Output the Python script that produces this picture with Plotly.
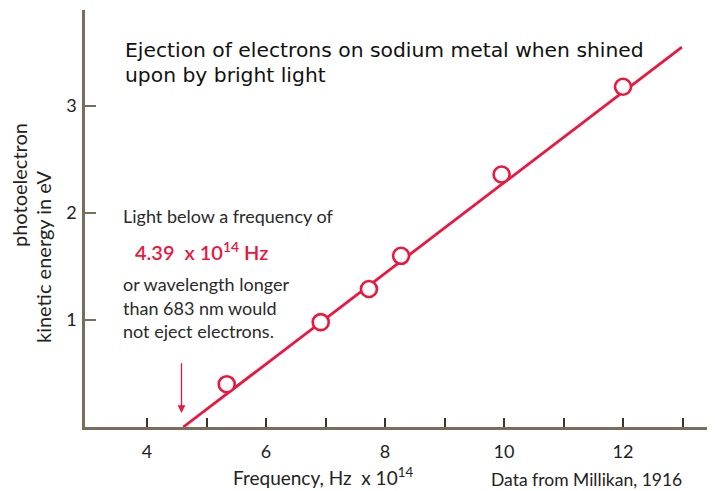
import plotly.graph_objects as go

# ---- data ----
freq = [5.34, 6.92, 7.73, 8.27, 9.96, 12.0]          # x 10^14 Hz
energy = [0.40, 0.98, 1.29, 1.60, 2.36, 3.18]        # eV
fit_freq = [4.61, 12.99]
fit_energy = [0.0, 3.55]
arrow_freq = 4.58
arrow_energy = [0.61, 0.13]
x_tickvals = [4, 6, 8, 10, 12]
x_ticktext = ["4", "6", "8", "10", "12"]
x_minorvals = [5, 7, 9, 11, 13]
y_tickvals = [1, 2, 3]
y_ticktext = ["1", "2", "3"]

RED = "#ec1640"
AXIS = "#7a6d5c"
MYRIAD = "Lato, Open Sans, sans-serif"

# page is offset by the 8px body margin
OFF = 8
# plot area in page pixels: x 85..715, y 10..427
L, R, T, B = 85, 715, 10, 427
def px(x):
    return (x - L) / (R - L)
def py(y):
    return (B - y) / (B - T)

fig = go.Figure()
fig.add_trace(go.Scatter(x=fit_freq, y=fit_energy, mode="lines",
                         line=dict(color=RED, width=2.8), showlegend=False,
                         hoverinfo="skip"))
fig.add_trace(go.Scatter(x=freq, y=energy, mode="markers",
                         marker=dict(symbol="circle", size=16, color="white",
                                     line=dict(color=RED, width=2.6)),
                         showlegend=False))

ann = []
def text(x, y, s, size, color="#222", font=MYRIAD, xanchor="left", angle=0, weight=None):
    f = dict(family=font, size=size, color=color)
    if weight:
        f["weight"] = weight
    ann.append(dict(x=px(x), y=py(y), xref="paper", yref="paper", text=s,
                    showarrow=False, xanchor=xanchor, yanchor="middle",
                    textangle=angle, font=f))

text(123, 50, "Ejection of electrons on sodium metal when shined", 20.3,
     color="#111", font="DejaVu Sans")
text(123, 75, "upon by bright light", 20.3, color="#111", font="DejaVu Sans")

text(121, 216, "Light below a frequency of", 18, color="#2a2a2a")
text(133, 251, "4.39  x 10<sup>14</sup> Hz", 20, color=RED, weight=600)
text(121, 284, "or wavelength longer", 18, color="#2a2a2a")
text(121, 308, "than 683 nm would", 18, color="#2a2a2a")
text(121, 331, "not eject electrons.", 18, color="#2a2a2a")

text(19, 185, "photoelectron", 20, xanchor="center", angle=-90)
text(43, 257, "kinetic energy in eV", 20, xanchor="center", angle=-90)

text(231, 476, "Frequency, Hz  x 10<sup>14</sup>", 19)
text(489, 479, "Data from Millikan, 1916", 17.5)

ann.append(dict(x=arrow_freq, y=arrow_energy[1], ax=arrow_freq, ay=arrow_energy[0],
                xref="x", yref="y", axref="x", ayref="y", text="",
                showarrow=True, arrowhead=2, arrowsize=1.2, arrowwidth=1.3,
                arrowcolor=RED))

x0 = 4 - (147 - L) / 59.5
x1 = 4 + (R - 147) / 59.5
fig.update_layout(
    width=715 - OFF, height=491 - OFF,
    margin=dict(l=L - OFF, r=0, t=T - OFF, b=491 - B),
    paper_bgcolor="white", plot_bgcolor="white",
    annotations=ann,
    xaxis=dict(range=[x0, x1], showgrid=False, zeroline=False,
               showline=True, linecolor=AXIS, linewidth=2.5,
               ticks="inside", ticklen=9, tickwidth=2, tickcolor="#3d352b",
               tickvals=x_tickvals, ticktext=x_ticktext,
               minor=dict(tickvals=x_minorvals, ticks="inside", ticklen=9,
                          tickwidth=2, tickcolor="#3d352b", showgrid=False),
               ticklabelstandoff=7,
               tickfont=dict(family=MYRIAD, size=18, color="#222")),
    yaxis=dict(range=[0, (B - T) / 107], showgrid=False, zeroline=False,
               showline=True, linecolor=AXIS, linewidth=2.5,
               ticks="inside", ticklen=11, tickwidth=2, tickcolor=AXIS,
               tickvals=y_tickvals, ticktext=y_ticktext,
               ticklabelstandoff=2,
               tickfont=dict(family=MYRIAD, size=18, color="#222")),
)
fig.write_html("out.html")
